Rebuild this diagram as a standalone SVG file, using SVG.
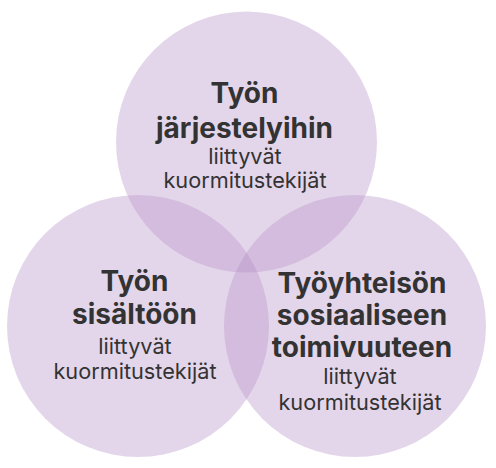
<svg xmlns="http://www.w3.org/2000/svg" width="496" height="468" viewBox="0 0 496 468">
<style>
.c{fill:#b690c6;fill-opacity:0.37}
.b{font-family:Inter,"Liberation Sans",sans-serif;font-weight:700;font-size:28px;fill:#333;text-anchor:middle}
.r{font-family:Inter,"Liberation Sans",sans-serif;font-weight:400;font-size:21.7px;fill:#333;text-anchor:middle}
</style>
<rect width="496" height="468" fill="#fff"/>
<g id="top">
<circle class="c" cx="246.5" cy="142" r="130.5"/>
<text class="b" x="244.5" y="103">Työn</text>
<text class="b" x="244.5" y="138">järjestelyihin</text>
<text class="r" x="245" y="164">liittyvät</text>
<text class="r" x="245" y="188">kuormitustekijät</text>
</g>
<g id="left">
<circle class="c" cx="138" cy="326" r="131"/>
<text class="b" x="134.5" y="291">Työn</text>
<text class="b" x="134.5" y="324">sisältöön</text>
<text class="r" x="135" y="354">liittyvät</text>
<text class="r" x="135" y="379">kuormitustekijät</text>
</g>
<g id="right">
<circle class="c" cx="355" cy="326" r="131"/>
<text class="b" x="362" y="293">Työyhteisön</text>
<text class="b" x="362" y="325">sosiaaliseen</text>
<text class="b" x="362" y="357">toimivuuteen</text>
<text class="r" x="360" y="384">liittyvät</text>
<text class="r" x="360" y="410">kuormitustekijät</text>
</g>
<g id="connectors"/>
</svg>
